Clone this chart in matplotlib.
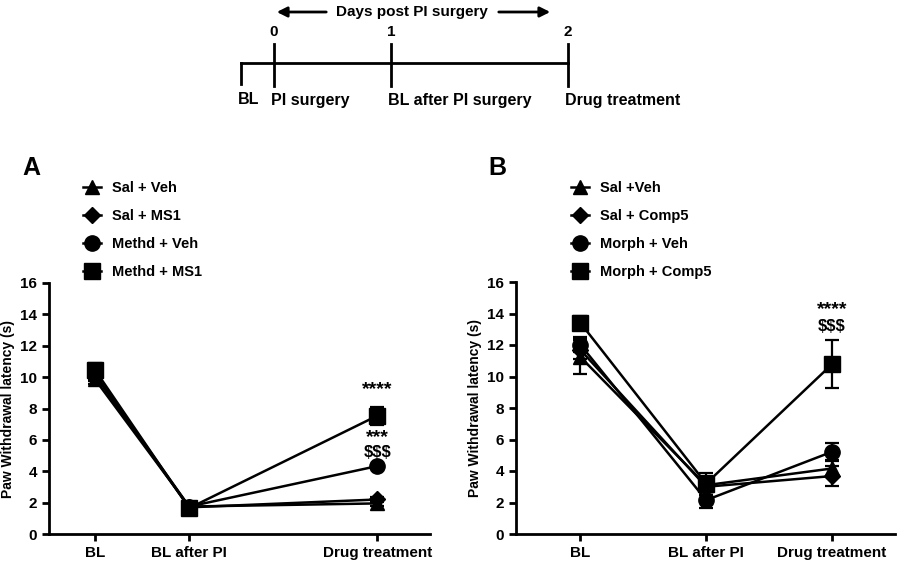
import numpy as np
import matplotlib.pyplot as plt
from matplotlib.lines import Line2D

plt.rcParams['font.family'] = ['Liberation Sans', 'DejaVu Sans']
plt.rcParams['font.weight'] = 'bold'

# time points
timepoints = ['BL', 'BL after PI', 'Drug treatment']

# panel A: methadone / MS1
groups_a = ['Sal + Veh', 'Sal + MS1', 'Methd + Veh', 'Methd + MS1']
mean_a = [[9.85, 1.75, 1.95],
          [10.1, 1.7, 2.2],
          [10.2, 1.75, 4.33],
          [10.45, 1.65, 7.54]]
sem_a = [[0.3, 0.2, 0.15],
         [0.35, 0.2, 0.15],
         [0.4, 0.2, 0.15],
         [0.45, 0.2, 0.58]]

# panel B: morphine / Comp5
groups_b = ['Sal +Veh', 'Sal + Comp5', 'Morph + Veh', 'Morph + Comp5']
mean_b = [[11.25, 3.1, 4.16],
          [11.7, 3.0, 3.68],
          [12.03, 2.15, 5.22],
          [13.42, 3.2, 10.78]]
sem_b = [[1.1, 0.6, 0.5],
         [0.6, 0.5, 0.64],
         [0.45, 0.5, 0.55],
         [0.4, 0.7, 1.52]]

markers = ['^', 'D', 'o', 's']
msizes = [10, 8, 11, 11]

# timeline labels
tl_days = ['0', '1', '2']
tl_events = ['BL', 'PI surgery', 'BL after PI surgery', 'Drug treatment']

fig = plt.figure(figsize=(9, 5.64), dpi=100)


def draw_panel(ax, xpos, means, sems, xlim):
    for i in range(4):
        ax.errorbar(xpos, means[i], yerr=sems[i], color='black', lw=1.8,
                    marker=markers[i], ms=msizes[i], capsize=5, capthick=1.6,
                    elinewidth=1.6, zorder=3 + i)
    ax.set_xlim(*xlim)
    ax.set_ylim(0, 16)
    ax.set_yticks(np.arange(0, 17, 2))
    ax.set_xticks(xpos)
    ax.set_xticklabels(timepoints)
    for s in ['top', 'right']:
        ax.spines[s].set_visible(False)
    for s in ['left', 'bottom']:
        ax.spines[s].set_linewidth(2)
    ax.tick_params(width=2, length=5, labelsize=11)
    ax.set_ylabel('Paw Withdrawal latency (s)', fontsize=10, fontweight='bold')


def draw_legend(ax, labels, anchor):
    handles = [Line2D([0], [0], color='black', lw=1.8, marker=markers[i],
                      ms=msizes[i]) for i in range(4)]
    ax.legend(handles, labels, loc='upper left', bbox_to_anchor=anchor,
              bbox_transform=fig.transFigure, frameon=False,
              handlelength=1.2, handletextpad=0.8, labelspacing=0.95,
              prop={'weight': 'bold', 'size': 10.5})


# panel A
ax_a = fig.add_axes([49 / 900, 30 / 564, 381 / 900, 251 / 564])
draw_panel(ax_a, [0, 1, 3], mean_a, sem_a, (-0.49, 3.56))
ax_a.text(3, 9.2, '****', ha='center', va='center', fontsize=14)
ax_a.text(3, 6.15, '***', ha='center', va='center', fontsize=14)
ax_a.text(3, 5.2, '$$$', ha='center', va='center', fontsize=12)
draw_legend(ax_a, groups_a, (70 / 900, 1 - 168 / 564))
fig.text(31 / 900, 1 - 168 / 564, 'A', fontsize=18, fontweight='bold',
         ha='center', va='center')

# panel B
ax_b = fig.add_axes([516 / 900, 30 / 564, 379 / 900, 252 / 564])
draw_panel(ax_b, [0, 1, 2], mean_b, sem_b, (-0.51, 2.5))
ax_b.text(2, 14.25, '****', ha='center', va='center', fontsize=14)
ax_b.text(2, 13.15, '$$$', ha='center', va='center', fontsize=12)
draw_legend(ax_b, groups_b, (558 / 900, 1 - 168 / 564))
fig.text(497 / 900, 1 - 168 / 564, 'B', fontsize=18, fontweight='bold',
         ha='center', va='center')

# timeline on top, drawn in pixel coordinates
tl = fig.add_axes([0, 0, 1, 1], zorder=-1)
tl.set_xlim(0, 900)
tl.set_ylim(564, 0)
tl.axis('off')
tl.plot([241, 568], [63, 63], color='black', lw=2)
tl.plot([241, 241], [63, 84], color='black', lw=2)
tick_x = [274, 391, 568]
for x, d in zip(tick_x, tl_days):
    tl.plot([x, x], [44, 86], color='black', lw=2)
    tl.text(x, 32, d, ha='center', va='center', fontsize=11)
for x, ev in zip([241] + tick_x, tl_events):
    tl.text(x - 3, 100, ev, ha='left', va='center', fontsize=11.5)
tl.text(412, 12, 'Days post PI surgery', ha='center', va='center', fontsize=11)
tl.annotate('', xy=(274, 12), xytext=(329, 12),
            arrowprops=dict(arrowstyle='-|>', color='black', lw=2, mutation_scale=15))
tl.annotate('', xy=(553, 12), xytext=(496, 12),
            arrowprops=dict(arrowstyle='-|>', color='black', lw=2, mutation_scale=15))

fig.savefig('out.png', dpi=100)
